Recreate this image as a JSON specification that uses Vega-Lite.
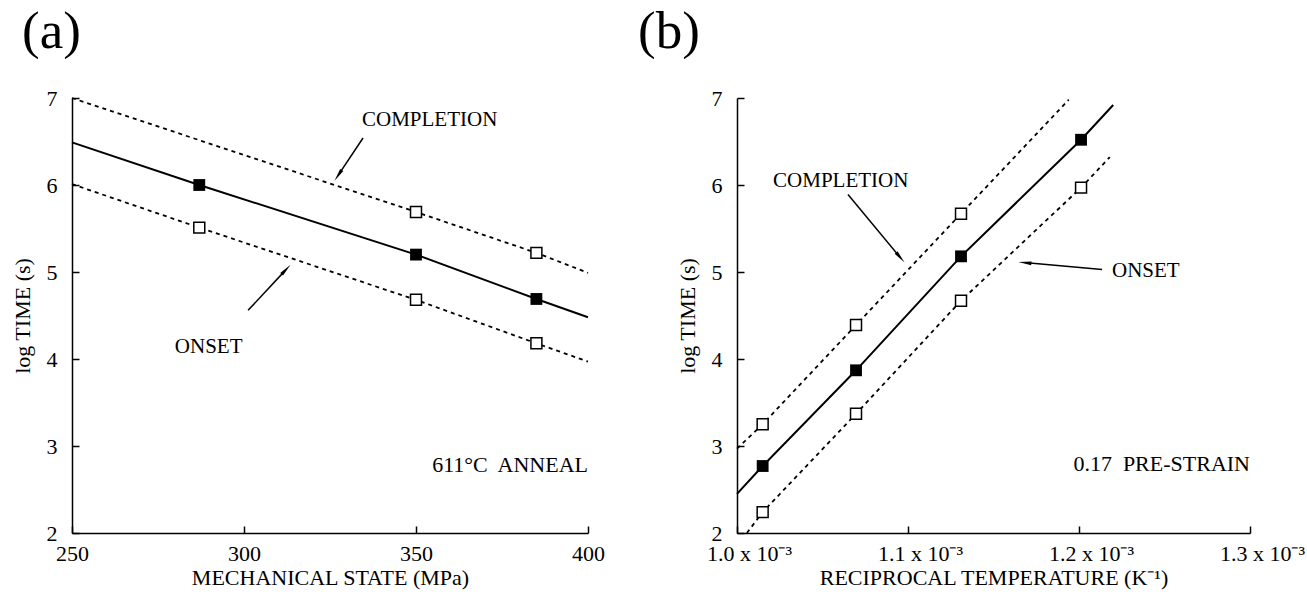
{
  "$schema": "https://vega.github.io/schema/vega-lite/v6.json",
  "background": "white",
  "padding": {"left": 11, "top": 6, "right": 5, "bottom": 2},
  "config": {
    "font": "Liberation Serif",
    "view": {"stroke": null},
    "axis": {
      "grid": false,
      "domainColor": "black",
      "domainWidth": 1.5,
      "tickColor": "black",
      "tickWidth": 1.5,
      "tickSize": -7,
      "labelColor": "black",
      "titleColor": "black",
      "labelFont": "Liberation Serif",
      "titleFont": "Liberation Serif",
      "labelFontSize": 22,
      "titleFontSize": 22,
      "titleFontWeight": "normal",
      "labelFlush": false
    },
    "axisY": {"labelPadding": 22, "titlePadding": 12},
    "axisX": {"labelPadding": 17, "titlePadding": 3},
    "title": {"font": "Liberation Serif", "fontSize": 53, "fontWeight": "normal", "anchor": "start", "color": "black", "offset": 28},
    "concat": {"spacing": 33}
  },
  "datasets": {
    "a_lines": [
      {"series": "completion", "x": 250, "y": 7.0},
      {"series": "completion", "x": 350, "y": 5.69},
      {"series": "completion", "x": 385, "y": 5.22},
      {"series": "completion", "x": 400, "y": 4.99},
      {"series": "mid", "x": 250, "y": 6.49},
      {"series": "mid", "x": 287, "y": 6.0},
      {"series": "mid", "x": 350, "y": 5.2},
      {"series": "mid", "x": 385, "y": 4.69},
      {"series": "mid", "x": 400, "y": 4.48},
      {"series": "onset", "x": 250, "y": 6.01},
      {"series": "onset", "x": 287, "y": 5.51},
      {"series": "onset", "x": 350, "y": 4.68},
      {"series": "onset", "x": 385, "y": 4.18},
      {"series": "onset", "x": 400, "y": 3.97}
    ],
    "a_points": [
      {"series": "mid", "x": 287, "y": 6.0},
      {"series": "mid", "x": 350, "y": 5.2},
      {"series": "mid", "x": 385, "y": 4.69},
      {"series": "completion", "x": 350, "y": 5.69},
      {"series": "completion", "x": 385, "y": 5.22},
      {"series": "onset", "x": 287, "y": 5.51},
      {"series": "onset", "x": 350, "y": 4.68},
      {"series": "onset", "x": 385, "y": 4.18}
    ],
    "a_text": [
      {"label": "COMPLETION", "x": 334.3, "y": 6.75},
      {"label": "ONSET", "x": 279.9, "y": 4.14}
    ],
    "a_note": [
      {"label": "611°C\u00a0 ANNEAL", "x": 400, "y": 2.78}
    ],
    "a_arrows": [
      {"name": "completion", "x": 327.7, "y": 6.13, "x2": 334.6, "y2": 6.54},
      {"name": "onset", "x": 311.8, "y": 5.01, "x2": 301.2, "y2": 4.56}
    ],
    "b_lines": [
      {"series": "completion", "x": 0.001, "y": 2.97},
      {"series": "completion", "x": 0.001015, "y": 3.25},
      {"series": "completion", "x": 0.0010696, "y": 4.39},
      {"series": "completion", "x": 0.001131, "y": 5.67},
      {"series": "completion", "x": 0.001194, "y": 6.98},
      {"series": "mid", "x": 0.001, "y": 2.45},
      {"series": "mid", "x": 0.001015, "y": 2.77},
      {"series": "mid", "x": 0.0010696, "y": 3.87},
      {"series": "mid", "x": 0.001131, "y": 5.18},
      {"series": "mid", "x": 0.0012012, "y": 6.52},
      {"series": "mid", "x": 0.00122, "y": 6.92},
      {"series": "onset", "x": 0.0010058, "y": 2.0},
      {"series": "onset", "x": 0.001015, "y": 2.24},
      {"series": "onset", "x": 0.0010696, "y": 3.37},
      {"series": "onset", "x": 0.001131, "y": 4.67},
      {"series": "onset", "x": 0.0012012, "y": 5.97},
      {"series": "onset", "x": 0.001218, "y": 6.32}
    ],
    "b_points": [
      {"series": "completion", "x": 0.001015, "y": 3.25},
      {"series": "completion", "x": 0.0010696, "y": 4.39},
      {"series": "completion", "x": 0.001131, "y": 5.67},
      {"series": "mid", "x": 0.001015, "y": 2.77},
      {"series": "mid", "x": 0.0010696, "y": 3.87},
      {"series": "mid", "x": 0.001131, "y": 5.18},
      {"series": "mid", "x": 0.0012012, "y": 6.52},
      {"series": "onset", "x": 0.001015, "y": 2.24},
      {"series": "onset", "x": 0.0010696, "y": 3.37},
      {"series": "onset", "x": 0.001131, "y": 4.67},
      {"series": "onset", "x": 0.0012012, "y": 5.97}
    ],
    "b_text": [
      {"label": "COMPLETION", "x": 0.0010211, "y": 6.05},
      {"label": "ONSET", "x": 0.0012193, "y": 5.01}
    ],
    "b_note": [
      {"label": "0.17\u00a0 PRE-STRAIN", "x": 0.0013, "y": 2.79}
    ],
    "b_arrows": [
      {"name": "completion", "x": 0.0010947, "y": 5.185, "x2": 0.0010649, "y2": 5.89},
      {"name": "onset", "x": 0.0011696, "y": 5.105, "x2": 0.0012135, "y2": 5.03}
    ]
  },
  "hconcat": [
    {
      "title": {"text": "(a)", "dx": 11},
      "width": 516,
      "height": 435,
      "encoding": {
        "x": {"field": "x", "type": "quantitative", "scale": {"domain": [250, 400], "nice": false, "zero": false},
              "axis": {"values": [250, 300, 350, 400], "title": "MECHANICAL STATE (MPa)"}},
        "y": {"field": "y", "type": "quantitative", "scale": {"domain": [2, 7], "nice": false, "zero": false},
              "axis": {"values": [2, 3, 4, 5, 6, 7], "title": "log TIME (s)"}}
      },
      "layer": [
        {"data": {"name": "a_lines"}, "transform": [{"filter": "datum.series == 'mid'"}],
         "mark": {"type": "line", "color": "black", "strokeWidth": 2}, "encoding": {"detail": {"field": "series"}}},
        {"data": {"name": "a_lines"}, "transform": [{"filter": "datum.series != 'mid'"}],
         "mark": {"type": "line", "color": "black", "strokeWidth": 1.8, "strokeDash": [4, 4]}, "encoding": {"detail": {"field": "series"}}},
        {"data": {"name": "a_points"}, "transform": [{"filter": "datum.series == 'mid'"}],
         "mark": {"type": "point", "shape": "square", "filled": true, "color": "black", "size": 140, "opacity": 1}},
        {"data": {"name": "a_points"}, "transform": [{"filter": "datum.series != 'mid'"}],
         "mark": {"type": "point", "shape": "square", "fill": "white", "stroke": "black", "strokeWidth": 1.5, "size": 120, "opacity": 1, "fillOpacity": 1}},
        {"data": {"name": "a_text"}, "mark": {"type": "text", "fontSize": 21, "color": "black", "align": "left", "baseline": "middle"},
         "encoding": {"text": {"field": "label"}}},
        {"data": {"name": "a_note"}, "mark": {"type": "text", "fontSize": 22, "color": "black", "align": "right", "baseline": "middle"},
         "encoding": {"text": {"field": "label"}}},
        {"data": {"name": "a_arrows"}, "mark": {"type": "rule", "color": "black", "strokeWidth": 1.5},
         "encoding": {"x2": {"field": "x2"}, "y2": {"field": "y2"}}},
        {"data": {"name": "a_arrows"}, "transform": [{"filter": "datum.name == 'completion'"}],
         "mark": {"type": "point", "shape": "wedge", "filled": true, "color": "black", "size": 230, "angle": 214, "opacity": 1}},
        {"data": {"name": "a_arrows"}, "transform": [{"filter": "datum.name == 'onset'"}],
         "mark": {"type": "point", "shape": "wedge", "filled": true, "color": "black", "size": 230, "angle": 43, "opacity": 1}}
      ]
    },
    {
      "title": {"text": "(b)", "dx": -38},
      "width": 513,
      "height": 435,
      "encoding": {
        "x": {"field": "x", "type": "quantitative", "scale": {"domain": [0.001, 0.0013], "nice": false, "zero": false},
              "axis": {"values": [0.001, 0.0011, 0.0012, 0.0013], "labelOffset": 12, "labelExpr": "format(datum.value * 1000, '.1f') + ' x 10⁻³'", "title": "RECIPROCAL TEMPERATURE (K⁻¹)"}},
        "y": {"field": "y", "type": "quantitative", "scale": {"domain": [2, 7], "nice": false, "zero": false},
              "axis": {"values": [2, 3, 4, 5, 6, 7], "title": "log TIME (s)"}}
      },
      "layer": [
        {"data": {"name": "b_lines"}, "transform": [{"filter": "datum.series == 'mid'"}],
         "mark": {"type": "line", "color": "black", "strokeWidth": 2}, "encoding": {"detail": {"field": "series"}}},
        {"data": {"name": "b_lines"}, "transform": [{"filter": "datum.series != 'mid'"}],
         "mark": {"type": "line", "color": "black", "strokeWidth": 1.8, "strokeDash": [4, 4]}, "encoding": {"detail": {"field": "series"}}},
        {"data": {"name": "b_points"}, "transform": [{"filter": "datum.series == 'mid'"}],
         "mark": {"type": "point", "shape": "square", "filled": true, "color": "black", "size": 140, "opacity": 1}},
        {"data": {"name": "b_points"}, "transform": [{"filter": "datum.series != 'mid'"}],
         "mark": {"type": "point", "shape": "square", "fill": "white", "stroke": "black", "strokeWidth": 1.5, "size": 120, "opacity": 1, "fillOpacity": 1}},
        {"data": {"name": "b_text"}, "mark": {"type": "text", "fontSize": 21, "color": "black", "align": "left", "baseline": "middle"},
         "encoding": {"text": {"field": "label"}}},
        {"data": {"name": "b_note"}, "mark": {"type": "text", "fontSize": 22, "color": "black", "align": "right", "baseline": "middle"},
         "encoding": {"text": {"field": "label"}}},
        {"data": {"name": "b_arrows"}, "mark": {"type": "rule", "color": "black", "strokeWidth": 1.5},
         "encoding": {"x2": {"field": "x2"}, "y2": {"field": "y2"}}},
        {"data": {"name": "b_arrows"}, "transform": [{"filter": "datum.name == 'completion'"}],
         "mark": {"type": "point", "shape": "wedge", "filled": true, "color": "black", "size": 230, "angle": 140, "opacity": 1}},
        {"data": {"name": "b_arrows"}, "transform": [{"filter": "datum.name == 'onset'"}],
         "mark": {"type": "point", "shape": "wedge", "filled": true, "color": "black", "size": 230, "angle": 276, "opacity": 1}}
      ]
    }
  ]
}
